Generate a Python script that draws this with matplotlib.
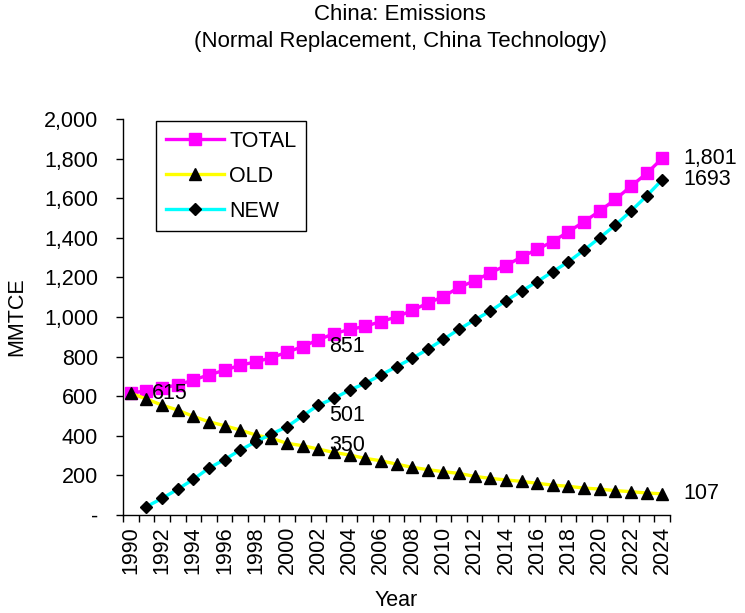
import numpy as np
import matplotlib
matplotlib.use('Agg')
import matplotlib.pyplot as plt
from matplotlib.ticker import FuncFormatter, FixedLocator

plt.rcParams['font.family'] = ['Liberation Sans', 'DejaVu Sans']

years = list(range(1990, 2025))
total = [615, 628, 641, 657, 682, 708, 731, 757, 773, 795, 822, 851, 885, 916, 937,
         953, 977, 1000, 1033, 1070, 1103, 1150, 1183, 1223, 1260, 1303, 1342, 1381,
         1431, 1481, 1535, 1594, 1660, 1725, 1801]
old = [615, 586, 555, 530, 498, 471, 451, 429, 404, 387, 362, 350, 333, 316, 303,
       286, 274, 257, 241, 229, 219, 210, 195, 185, 177, 170, 160, 151, 145, 136,
       131, 123, 118, 111, 107]
new = [np.nan, 42, 84, 130, 180, 237, 280, 328, 370, 409, 446, 501, 555, 589, 631,
       665, 707, 749, 791, 837, 887, 938, 985, 1030, 1082, 1131, 1178, 1229, 1279,
       1338, 1400, 1464, 1535, 1611, 1693]

# data labels: (series, year, text)
point_labels = [
    ('total', 1990, '615'),
    ('total', 2001, '851'),
    ('new', 2001, '501'),
    ('old', 2001, '350'),
    ('total', 2024, '1,801'),
    ('new', 2024, '1693'),
    ('old', 2024, '107'),
]

fs = 15.5
fig = plt.figure(figsize=(7.45, 6.13), dpi=100)
ax = fig.add_axes([123 / 745, 1 - 515 / 613, (670 - 123) / 745, (515 - 119) / 613])

x = np.arange(len(years))
series = {'total': total, 'old': old, 'new': new}

ax.plot(x, total, color='#FF00FF', lw=2.4, marker='s', ms=8.5,
        mfc='#FF00FF', mec='#FF00FF', label='TOTAL')
ax.plot(x, old, color='#FFFF00', lw=2.4, marker='^', ms=8.5,
        mfc='black', mec='black', label='OLD')
ax.plot(x, new, color='#00FFFF', lw=2.4, marker='D', ms=6.5,
        mfc='black', mec='black', label='NEW')

for key, yr, txt in point_labels:
    i = years.index(yr)
    dx = 19 if yr == 2001 else 15
    ax.annotate(txt, (x[i], series[key][i]), xytext=(dx, 0), textcoords='offset points',
                ha='left', va='center', fontsize=fs)

ax.set_xlim(-0.5, len(years) - 0.5)
ax.set_ylim(0, 2000)

ax.set_yticks(np.arange(0, 2001, 200))
ax.yaxis.set_major_formatter(FuncFormatter(lambda v, p: '-' if v == 0 else f'{int(v):,}'))
ax.tick_params(axis='y', direction='out', length=5, width=1, pad=13, labelsize=fs)

# category axis: tick marks between categories, labels on every other year
ax.xaxis.set_major_locator(FixedLocator(np.arange(-0.5, len(years), 1.0)))
ax.xaxis.set_major_formatter(FuncFormatter(lambda v, p: ''))
ax.xaxis.set_minor_locator(FixedLocator(x[::2]))
ax.set_xticklabels([str(y) for y in years[::2]], minor=True, rotation=90)
ax.tick_params(axis='x', which='major', direction='out', length=5, width=1)
ax.tick_params(axis='x', which='minor', length=0, pad=8, labelsize=fs)

for s in ['top', 'right']:
    ax.spines[s].set_visible(False)
for s in ['left', 'bottom']:
    ax.spines[s].set_linewidth(1)

ax.set_xlabel('Year', fontsize=fs, labelpad=11)
ax.set_ylabel('MMTCE', fontsize=fs, labelpad=12)
fig.text(400 / 745, 1 - 15 / 613, 'China: Emissions', ha='center', va='center', fontsize=16)
fig.text(400 / 745, 1 - 42 / 613, '(Normal Replacement, China Technology)',
         ha='center', va='center', fontsize=16)

leg = fig.legend(loc='upper left', bbox_to_anchor=(156 / 745, 1 - 121 / 613),
                 borderaxespad=0, fontsize=fs, handlelength=2.7, handletextpad=0.25,
                 labelspacing=0.65, borderpad=0.45, fancybox=False, framealpha=1,
                 edgecolor='black')
leg.get_frame().set_linewidth(1)

fig.savefig('out.png', dpi=100)
